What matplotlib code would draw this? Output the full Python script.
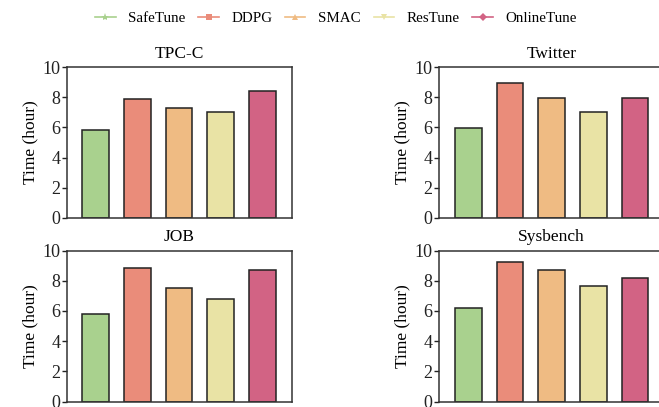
import matplotlib
matplotlib.use("Agg")
import matplotlib.pyplot as plt
from matplotlib.lines import Line2D

plt.rcParams['font.family'] = ['Liberation Serif', 'DejaVu Serif']

methods = ["SafeTune", "DDPG", "SMAC", "ResTune", "OnlineTune"]
colors = ["#a9d18e", "#ea8c7a", "#efbb83", "#e9e3a5", "#d26384"]
markers = ["*", "s", "^", "v", "D"]

workloads = ["TPC-C", "Twitter", "JOB", "Sysbench"]
tpcc = [5.85, 7.88, 7.26, 7.0, 8.42]
twitter = [5.95, 8.96, 7.98, 7.0, 7.98]
job = [5.82, 8.87, 7.54, 6.82, 8.68]
sysbench = [6.19, 9.21, 8.69, 7.63, 8.16]
values = [tpcc, twitter, job, sysbench]

yticks = [0, 2, 4, 6, 8, 10]

fig = plt.figure(figsize=(6.59, 4.07), dpi=100)
W, H = 659, 407
# axes boxes in pixels: (left, top, width, height)
boxes = [(66.5, 67, 225, 151), (439, 67, 225, 151),
         (66.5, 250.5, 225, 151), (439, 250.5, 225, 151)]

x = list(range(len(methods)))
for name, vals, (l, t, w, h) in zip(workloads, values, boxes):
    ax = fig.add_axes([l / W, 1 - (t + h) / H, w / W, h / H])
    ax.bar(x, vals, width=0.64, color=colors, edgecolor="#222222", linewidth=1.1, zorder=2)
    ax.set_xlim(-0.7, 4.7)
    ax.set_ylim(0, 10)
    ax.set_yticks(yticks)
    ax.set_xticks([])
    ax.tick_params(axis="y", labelsize=13, length=3.5, width=1, colors="#222222", pad=1)
    for s in ax.spines.values():
        s.set_color("#333333")
        s.set_linewidth(1.1)
    ax.set_ylabel("Time (hour)", fontsize=12.5, labelpad=3)
    ax.set_title(name, fontsize=12.5, pad=6.5)

handles = [Line2D([0], [0], color=c, marker=m, markersize=4.5 if m != "*" else 6,
                  linewidth=1.2, markeredgewidth=0)
           for c, m in zip(colors, markers)]
fig.legend(handles, methods, loc="center", bbox_to_anchor=(0.51, 1 - 18 / H), ncol=5,
           frameon=False, fontsize=10.8, handlelength=1.35, columnspacing=0.85,
           handletextpad=0.85)

fig.savefig("out.png", dpi=100)
